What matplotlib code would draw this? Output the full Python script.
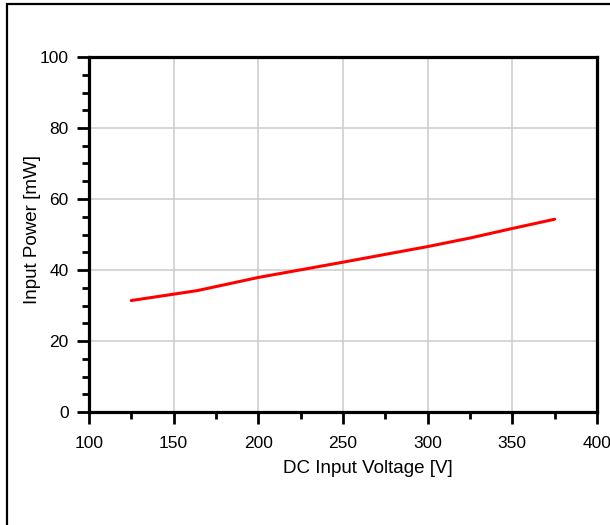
import matplotlib.pyplot as plt
from matplotlib.patches import Rectangle
from matplotlib.ticker import MultipleLocator

plt.rcParams["font.family"] = ["Liberation Sans", "DejaVu Sans"]

voltage = [125, 164, 200, 250, 300, 325, 350, 375]
power = [31.4, 34.2, 37.9, 42.2, 46.6, 49.0, 51.7, 54.3]

fig = plt.figure(figsize=(6.1, 5.25), dpi=100)
ax = fig.add_axes([89 / 610, 1 - 412 / 525, 508 / 610, 355 / 525])

# frame round the whole picture, running off the right and bottom edges
fig.patches.append(Rectangle((7 / 610, -0.05), 1.2, 1 - 4 / 525 + 0.05,
                             transform=fig.transFigure, fill=False,
                             edgecolor="black", linewidth=1.6))

ax.plot(voltage, power, color="red", linewidth=2.2, solid_capstyle="round")

ax.set_xlim(100, 400)
ax.set_ylim(0, 100)
ax.xaxis.set_major_locator(MultipleLocator(50))
ax.xaxis.set_minor_locator(MultipleLocator(25))
ax.yaxis.set_major_locator(MultipleLocator(20))
ax.yaxis.set_minor_locator(MultipleLocator(5))

ax.grid(True, which="major", color="#cccccc", linewidth=1.1)
ax.set_axisbelow(True)
for s in ax.spines.values():
    s.set_linewidth(2.3)
ax.tick_params(which="major", length=8.5, width=2, labelsize=12.5)
ax.tick_params(axis="x", which="major", pad=9)
ax.tick_params(axis="y", which="major", pad=6)
ax.tick_params(which="minor", length=5, width=2)

ax.set_xlabel("DC Input Voltage [V]", fontsize=13.5)
ax.set_ylabel("Input Power [mW]", fontsize=13.5)
ax.xaxis.set_label_coords(0.549, -0.135)
ax.yaxis.set_label_coords(-0.095, 0.515)

fig.savefig("out.png", dpi=100)
